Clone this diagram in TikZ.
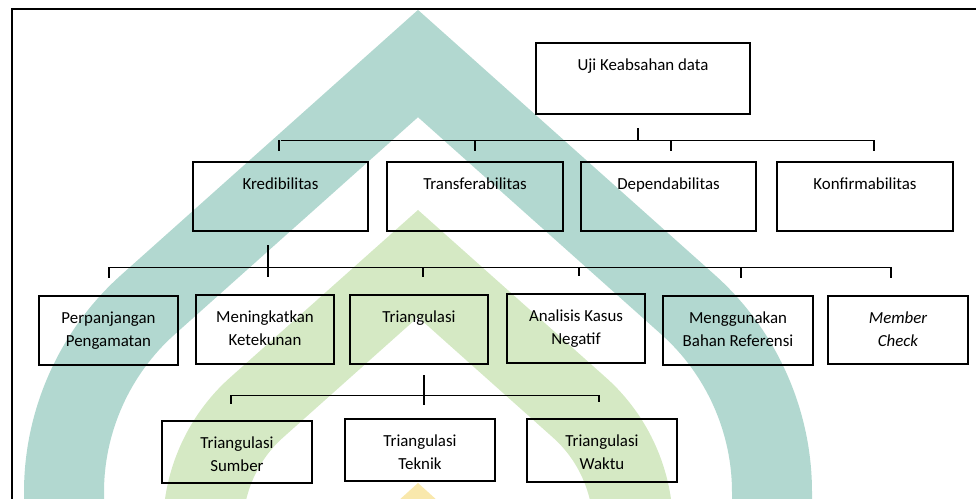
\documentclass[tikz,border=0pt]{standalone}
\usepackage{fontspec}
\setmainfont{Carlito}
\usepackage{tikz}
\usetikzlibrary{calc}
\definecolor{wmteal}{RGB}{178,216,208}
\definecolor{wmgreen}{RGB}{213,233,196}
\definecolor{wmyellow}{RGB}{249,232,172}
\newlength{\pxunit}
\setlength{\pxunit}{0.025cm}
% box of fixed size, text set at its top
\newcommand{\boxtxt}[3]{\parbox[c][#2\pxunit][t]{#1\pxunit}{\centering\vspace*{8pt}\strut#3}}

\begin{document}
\begin{tikzpicture}[
  x=0.025cm, y=-0.025cm,
  every node/.style={font=\fontsize{12}{16.4}\selectfont},
  entry/.style={draw, line width=1.9pt, inner sep=0pt},
  link/.style={line width=1pt},
  outerline/.style={line width=1.9pt}
]
\useasboundingbox (0,0) rectangle (976,499);
% watermark
\begin{scope}
  \clip (0,0) rectangle (976,499);
  \fill[wmteal] (24,520) -- (24,492) .. controls (24,409.5) and (59.5,330) .. (121.2,274.9)
    -- (418,9.9) -- (714.8,274.9) .. controls (776.5,330) and (812,409.5) .. (812,492)
    -- (812,520) -- (732,520) -- (732,492) .. controls (732,432.2) and (706.1,374.4) .. (661.5,334.6)
    -- (418,117.2) -- (174.5,334.6) .. controls (129.9,374.4) and (104,432.2) .. (104,492)
    -- (104,520) -- cycle;
  \fill[wmgreen] (163,527) .. controls (163,470.3) and (187.5,415.6) .. (229.8,377.8)
    -- (418,210) -- (606.2,377.8) .. controls (648.5,415.6) and (673,470.3) .. (673,527)
    -- (593,527) .. controls (593,493) and (578.3,460.1) .. (552.9,437.5)
    -- (418,317.1) -- (283.1,437.5) .. controls (257.7,460.1) and (243,493) .. (243,527)
    -- cycle;
  \fill[wmyellow] (418,483) -- (459,520) -- (377,520) -- cycle;
\end{scope}
\draw[outerline] (12,499) -- (12,9) -- (976,9);

% boxes
\node[entry] (uji) at (643,78.5) {\boxtxt{214}{71}{Uji Keabsahan data}};
\node[entry] (kred) at (280.5,196.5) {\boxtxt{175}{69}{Kredibilitas}};
\node[entry] (trans) at (475,196.5) {\boxtxt{176}{69}{Transferabilitas}};
\node[entry] (depend) at (668.5,196.5) {\boxtxt{175}{69}{Dependabilitas}};
\node[entry] (konf) at (865,196.5) {\boxtxt{176}{69}{Konfirmabilitas}};
\node[entry] (perp) at (108.5,330.5) {\boxtxt{139}{69}{Perpanjangan\\Pengamatan}};
\node[entry] (tekun) at (265,329.5) {\boxtxt{138}{69}{Meningkatkan\\Ketekunan}};
\node[entry] (tri) at (419,329.5) {\boxtxt{138}{69}{Triangulasi}};
\node[entry] (negatif) at (576,328.5) {\boxtxt{138}{69}{Analisis Kasus\\Negatif}};
\node[entry] (referensi) at (738,330.5) {\boxtxt{150}{69}{Menggunakan\\Bahan Referensi}};
\node[entry] (member) at (898,330) {\boxtxt{140}{68}{{\itshape Member\\Check}}};
\node[entry] (sumber) at (237,452) {\boxtxt{150}{62}{Triangulasi\\Sumber}};
\node[entry] (teknik) at (420,450) {\boxtxt{150}{62}{Triangulasi\\Teknik}};
\node[entry] (waktu) at (602,450.5) {\boxtxt{150}{63}{Triangulasi\\Waktu}};

% first level
\draw[link] ($(uji.south)+(-5,13)$) -- ++(0,12) coordinate (bus1);
\draw[link] (kred.north |- bus1) -- ($(konf.north |- bus1)+(9,0)$);
\foreach \n/\dx in {kred/-1.5, trans/0, depend/2.5, konf/9}
  \draw[link] ($(\n.north |- bus1)+(\dx,0)$) -- ($(\n.north)+(\dx,-10)$);

% second level
\draw[link] ($(kred.south)+(-12.5,13)$) -- ($(kred.south)+(-12.5,35)$) coordinate (bus2);
\draw[link] ($(perp.north |- bus2)+(0.5,0)$) -- ($(member.north |- bus2)+(-7,0)$);
\foreach \n/\dx in {perp/0.5, tekun/3, tri/4, negatif/3, referensi/3, member/-7}
  \draw[link] ($(\n.north |- bus2)+(\dx,0)$) -- ($(\n.north)+(\dx,-17)$);

% third level
\draw[link] ($(tri.south)+(5,10)$) -- ($(teknik.north)+(4,-13)$);
\coordinate (bus3) at ($(tri.south)+(0,30)$);
\draw[link] ($(sumber.north |- bus3)+(-6,0)$) -- ($(waktu.north |- bus3)+(-3,0)$);
\foreach \n/\dx in {sumber/-6, waktu/-3}
  \draw[link] ($(\n.north |- bus3)+(\dx,0)$) -- ($(\n.north)+(\dx,-16)$);
\end{tikzpicture}
\end{document}
